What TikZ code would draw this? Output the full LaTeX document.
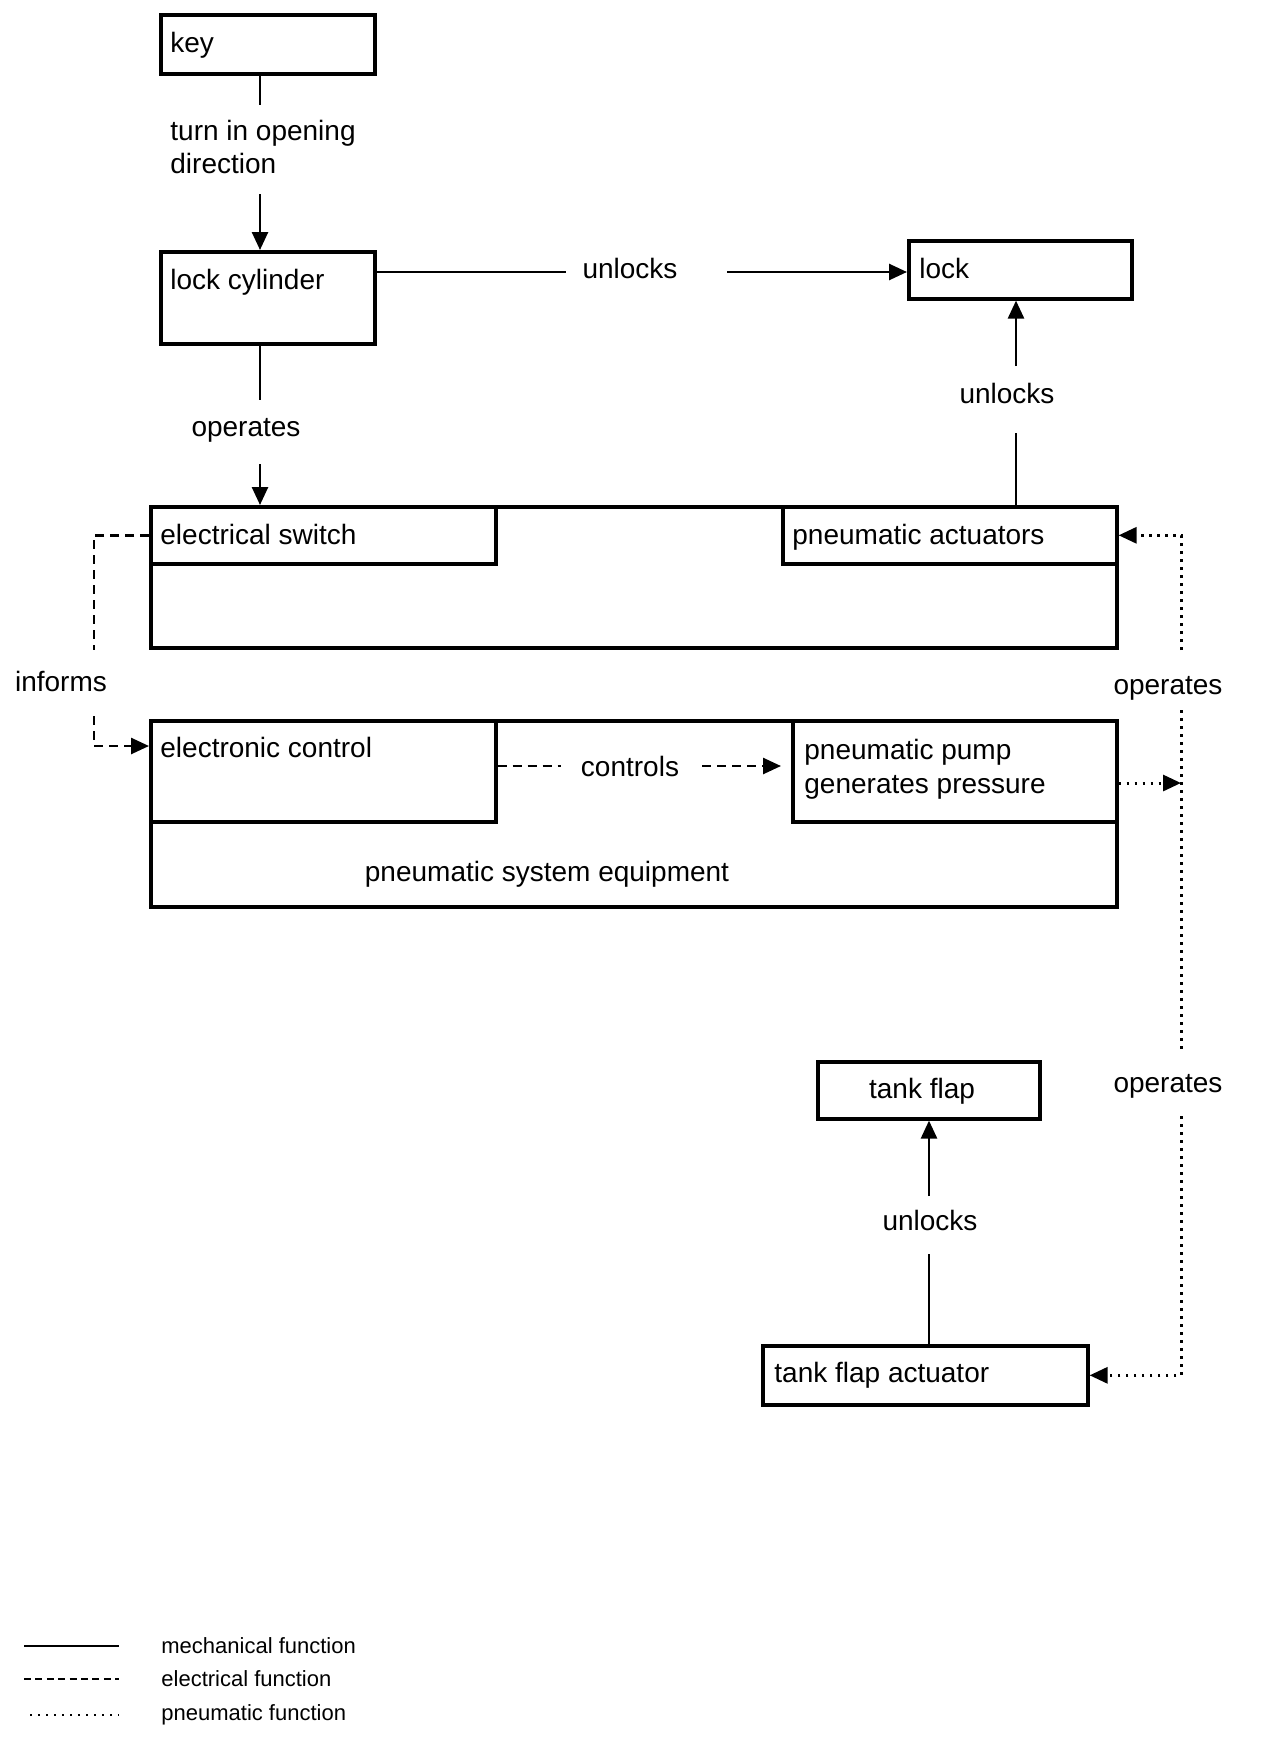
\documentclass[tikz,border=0pt]{standalone}
\usepackage{fontspec}
\setmainfont{Liberation Sans}
\usetikzlibrary{arrows.meta}
\begin{document}
\begin{tikzpicture}[x=0.5pt,y=-0.5pt,
  box/.style={draw,line width=1.8pt,inner sep=0pt,anchor=north west},
  txt/.style={inner sep=0pt,font=\fontsize{14}{17}\selectfont},
  leg/.style={inner sep=0pt,font=\fontsize{11}{13}\selectfont},
  mech/.style={line width=1.3pt},
  elec/.style={line width=1.3pt,dash pattern=on 4.5pt off 3pt},
  pneu/.style={line width=1.5pt,dash pattern=on 1.4pt off 2.6pt},
  arrowhd/.style={-{Triangle[length=9pt,width=8pt]}}]
\fill[white] (0,0) rectangle (1264,1740);
\useasboundingbox (0,0) rectangle (1264,1740);

% boxes
\node[box,minimum width=107pt,minimum height=29.5pt] (key) at (159,13) {};
\node[box,minimum width=107pt,minimum height=46pt] (lockcyl) at (159,250) {};
\node[box,minimum width=111.5pt,minimum height=29pt] (lock) at (907,239) {};
\node[box,minimum width=483pt,minimum height=70.5pt] (big1) at (149,505) {};
\node[box,minimum width=172.5pt,minimum height=28.5pt] (sw) at (149,505) {};
\node[box,minimum width=167pt,minimum height=28.5pt] (act) at (781,505) {};
\node[box,minimum width=483pt,minimum height=93pt] (big2) at (149,719) {};
\node[box,minimum width=172.5pt,minimum height=50.5pt] (ctrl) at (149,719) {};
\node[box,minimum width=162pt,minimum height=50.5pt] (pump) at (791,719) {};
\node[box,minimum width=111pt,minimum height=28.5pt] (tf) at (816,1060) {};
\node[box,minimum width=162.5pt,minimum height=29.5pt] (tfa) at (761,1344) {};

% box texts
\node[txt,anchor=base west] (tkey) at (170,53) {key};
\node[txt,anchor=base west] (tlockcyl) at (170,289) {lock cylinder};
\node[txt,anchor=base west] (tlock) at (919,278) {lock};
\node[txt,anchor=base west] (tsw) at (160,544) {electrical switch};
\node[txt,anchor=base west] (tact) at (792,544) {pneumatic actuators};
\node[txt,anchor=base west] (tctrl) at (160,757) {electronic control};
\node[txt,anchor=base west] (tpump1) at (804,759) {pneumatic pump};
\node[txt,anchor=base west] (tpump2) at (804,793) {generates pressure};
\node[txt,anchor=base] (tpse) at (547,881) {pneumatic system equipment};
\node[txt,anchor=base] (ttf) at (922,1098) {tank flap};
\node[txt,anchor=base west] (ttfa) at (774,1382) {tank flap actuator};

% connector labels
\node[txt,anchor=base west] (lturn1) at (170,140) {turn in opening};
\node[txt,anchor=base west] (lturn2) at (170,173) {direction};
\node[txt,anchor=base] (lunl1) at (630,278) {unlocks};
\node[txt,anchor=base] (lunl2) at (1007,403) {unlocks};
\node[txt,anchor=base] (lop1) at (246,436) {operates};
\node[txt,anchor=base] (linf) at (61,691) {informs};
\node[txt,anchor=base] (lop2) at (1168,694) {operates};
\node[txt,anchor=base] (lctl) at (630,776) {controls};
\node[txt,anchor=base] (lop3) at (1168,1092) {operates};
\node[txt,anchor=base] (lunl3) at (930,1230) {unlocks};

% coordinates for connector ends
\coordinate (k1) at (260,105);
\coordinate (k2) at (260,194);
\coordinate (h1) at (566,272);
\coordinate (h2) at (727,272);
\coordinate (o1) at (260,400);
\coordinate (o2) at (260,464);
\coordinate (u1) at (1016,433);
\coordinate (u2) at (1016,366);
\coordinate (t1) at (929,1254);
\coordinate (t2) at (929,1196);
\coordinate (e1) at (94,650);
\coordinate (e2) at (94,716);
\coordinate (e3) at (94,746);
\coordinate (c1) at (561,766);
\coordinate (c2) at (702,766);
\coordinate (p0) at (1181,783);
\coordinate (p1) at (1181,650);
\coordinate (p2) at (1181,710);
\coordinate (p3) at (1181,1049);
\coordinate (p4) at (1181,1116);

% mechanical
\draw[mech] (key.south -| k1) -- (k1);
\draw[mech,arrowhd] (k2) -- (lockcyl.north -| k2);
\draw[mech] (lockcyl.east |- h1) -- (h1);
\draw[mech,arrowhd] (h2) -- (lock.west |- h2);
\draw[mech] (lockcyl.south -| o1) -- (o1);
\draw[mech,arrowhd] (o2) -- (sw.north -| o2);
\draw[mech] (act.north -| u1) -- (u1);
\draw[mech,arrowhd] (u2) -- (lock.south -| u2);
\draw[mech] (tfa.north -| t1) -- (t1);
\draw[mech,arrowhd] (t2) -- (tf.south -| t2);

% electrical
\draw[elec] (sw.west) -| (e1);
\draw[elec,arrowhd] (e2) -- (e3) -- (ctrl.west |- e3);
\draw[elec] (ctrl.east |- c1) -- (c1);
\draw[elec,arrowhd,shorten >=5pt] (c2) -- (pump.west |- c2);

% pneumatic
\draw[pneu,arrowhd] (pump.east |- p0) -- (p0);
\draw[pneu,arrowhd] (p1) |- (act.east);
\draw[pneu] (p2) -- (p3);
\draw[pneu,arrowhd] (p4) |- (tfa.east);

% legend
\coordinate (m1) at (24,1646); \coordinate (m2) at (119,1646);
\coordinate (d1) at (24,1679); \coordinate (d2) at (119,1679);
\coordinate (q1) at (30,1715); \coordinate (q2) at (119,1715);
\draw[mech] (m1) -- (m2);
\draw[elec,dash pattern=on 3.5pt off 2.2pt] (d1) -- (d2);
\draw[pneu,line width=1.1pt,dash pattern=on 1pt off 3pt] (q1) -- (q2);
\node[leg,anchor=base west] (lg1) at (161,1653) {mechanical function};
\node[leg,anchor=base west] (lg2) at (161,1686) {electrical function};
\node[leg,anchor=base west] (lg3) at (161,1720) {pneumatic function};
\end{tikzpicture}
\end{document}
